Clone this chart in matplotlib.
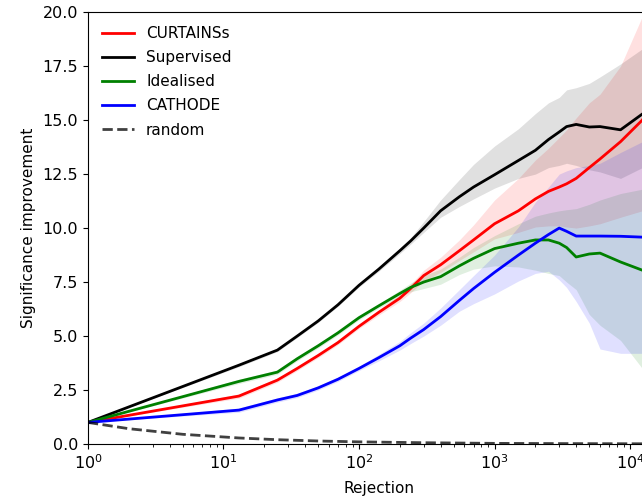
import matplotlib
matplotlib.use('Agg')
import matplotlib.pyplot as plt

# rejection grid shared by all the curves
rejection = [1, 13, 25, 35, 50, 70, 100, 140, 200, 240, 300, 400, 550, 700, 1000,
             1500, 2000, 2500, 3000, 3400, 4000, 5000, 6000, 8500, 12300, 15000]

# significance improvement (median) and band edges per method
curtains = [1.0, 2.22, 2.96, 3.5, 4.1, 4.7, 5.45, 6.1, 6.75, 7.2, 7.8, 8.3, 8.95, 9.45, 10.2,
            10.8, 11.35, 11.7, 11.9, 12.05, 12.3, 12.8, 13.2, 14.0, 15.0, 15.8]
curtains_lo = [1.0, 2.12, 2.86, 3.4, 4.0, 4.6, 5.35, 5.97, 6.6, 7.0, 7.55, 7.95, 8.5, 8.9, 9.5,
               9.8, 10.05, 10.1, 10.1, 10.05, 10.0, 10.1, 10.2, 10.5, 10.8, 11.0]
curtains_hi = [1.0, 2.32, 3.06, 3.6, 4.2, 4.8, 5.55, 6.23, 6.9, 7.4, 8.05, 8.65, 9.45, 10.15, 11.3,
               12.3, 13.15, 13.7, 14.2, 14.55, 15.1, 15.8, 16.2, 17.5, 19.8, 20.8]

supervised = [1.0, 3.65, 4.35, 5.0, 5.7, 6.45, 7.35, 8.1, 8.95, 9.4, 10.0, 10.8, 11.45, 11.9, 12.47,
              13.13, 13.6, 14.1, 14.45, 14.7, 14.8, 14.68, 14.7, 14.55, 15.28, 15.6]
supervised_lo = [1.0, 3.58, 4.28, 4.93, 5.63, 6.38, 7.27, 8.0, 8.82, 9.25, 9.8, 10.5, 11.0, 11.35, 11.85,
                 12.3, 12.5, 12.8, 12.9, 13.0, 12.9, 12.7, 12.6, 12.3, 12.8, 13.0]
supervised_hi = [1.0, 3.72, 4.42, 5.07, 5.77, 6.52, 7.43, 8.2, 9.08, 9.55, 10.3, 11.3, 12.25, 12.95, 13.8,
                 14.6, 15.3, 15.8, 16.05, 16.4, 16.5, 16.7, 17.0, 17.6, 18.3, 18.6]

idealised = [1.0, 2.9, 3.33, 3.95, 4.55, 5.15, 5.85, 6.4, 6.97, 7.25, 7.5, 7.75, 8.25, 8.6, 9.05,
             9.3, 9.45, 9.45, 9.3, 9.1, 8.66, 8.8, 8.84, 8.43, 8.05, 7.8]
idealised_lo = [1.0, 2.8, 3.23, 3.85, 4.45, 5.05, 5.75, 6.3, 6.82, 7.05, 7.2, 7.4, 7.85, 8.1, 8.25,
                8.2, 8.05, 7.9, 7.8, 7.5, 7.15, 6.0, 5.5, 4.8, 3.5, 3.2]
idealised_hi = [1.0, 3.0, 3.43, 4.05, 4.65, 5.25, 5.95, 6.5, 7.12, 7.45, 7.8, 8.1, 8.65, 9.1, 9.65,
                10.2, 10.55, 10.7, 10.8, 10.85, 10.9, 11.1, 11.3, 11.6, 11.8, 11.9]

cathode = [1.0, 1.57, 2.04, 2.25, 2.6, 3.0, 3.5, 4.0, 4.55, 4.9, 5.3, 5.9, 6.65, 7.2, 7.95,
           8.75, 9.3, 9.7, 10.0, 9.85, 9.63, 9.63, 9.63, 9.62, 9.58, 9.56]
cathode_lo = [1.0, 1.47, 1.94, 2.15, 2.5, 2.9, 3.4, 3.85, 4.35, 4.65, 5.0, 5.5, 6.15, 6.5, 6.95,
              7.55, 7.9, 8.0, 7.6, 7.25, 6.6, 5.6, 4.4, 4.2, 4.2, 4.2]
cathode_hi = [1.0, 1.67, 2.14, 2.35, 2.7, 3.1, 3.6, 4.15, 4.75, 5.15, 5.6, 6.3, 7.15, 7.8, 8.75,
              10.05, 11.2, 11.9, 12.5, 12.65, 12.8, 12.9, 13.0, 13.5, 14.0, 14.2]

# random classifier baseline
random_x = [1, 2, 5, 13, 25, 50, 100, 300, 1000, 3000, 15000]
random_y = [1.0, 0.71, 0.45, 0.28, 0.2, 0.14, 0.1, 0.06, 0.03, 0.02, 0.01]

series = [
  ('CURTAINSs', curtains, curtains_lo, curtains_hi, 'red'),
  ('Supervised', supervised, supervised_lo, supervised_hi, 'black'),
  ('Idealised', idealised, idealised_lo, idealised_hi, 'green'),
  ('CATHODE', cathode, cathode_lo, cathode_hi, 'blue'),
]

plt.rc('xtick', labelsize=11.5)
plt.rc('ytick', labelsize=11.5)
plt.rc('axes', labelsize=11)
plt.rc('legend', fontsize=11)

fig = plt.figure(figsize=(6.42, 4.97), dpi=100)
# axes run a little past the right edge of the figure
ax = fig.add_axes([0.137, 0.1066, 0.908, 0.869])

for lbl, y, lo, hi, col in series:
  ax.fill_between(rejection, lo, hi, color=col, alpha=0.12, linewidth=0)
for lbl, y, lo, hi, col in series:
  ax.plot(rejection, y, color=col, linewidth=2, label=lbl)
ax.plot(random_x, random_y, color='black', linestyle='--', linewidth=2, alpha=0.75, label='random')

ax.set_xscale('log')
ax.set_xlim(1, 2e4)
ax.set_ylim(0, 20)
ax.set_xlabel('Rejection', labelpad=6)
ax.set_ylabel('Significance improvement', labelpad=5)
ax.legend(loc='upper left', frameon=False, handlelength=2.1, labelspacing=0.6)

fig.savefig('out.png', dpi=100)
